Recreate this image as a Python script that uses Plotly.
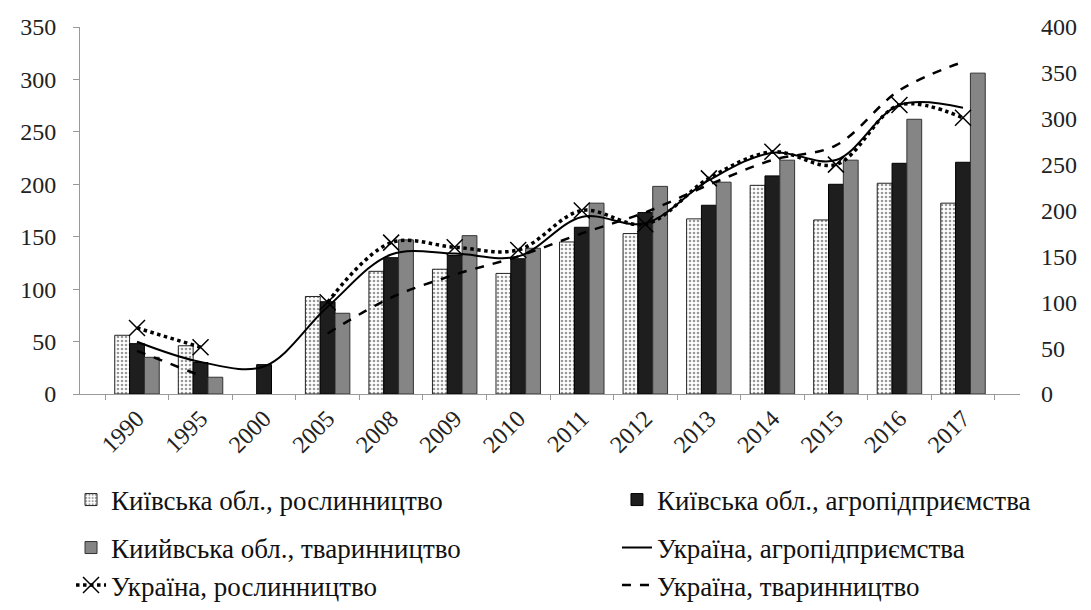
import plotly.graph_objects as go

years = ['1990', '1995', '2000', '2005', '2008', '2009', '2010', '2011', '2012',
         '2013', '2014', '2015', '2016', '2017']

# Left axis (bars)
kyiv_crop = [56, 46, None, 93, 117, 119, 115, 145, 153, 167, 199, 166, 201, 182]
kyiv_agro = [48, 30, 28, 88, 130, 132, 129, 159, 173, 180, 208, 200, 220, 221]
kyiv_livestock = [35, 16, None, 77, 147, 151, 139, 182, 198, 202, 223, 223, 262, 306]

# Right axis (lines)
ukr_agro = [57, 35, 30, 95, 152, 153, 150, 193, 186, 233, 263, 255, 315, 312]
ukr_crop = [72, 51, None, 100, 165, 160, 157, 200, 185, 235, 264, 250, 315, 301]
ukr_livestock = [47, 20, None, 66, 105, 130, 150, 175, 198, 228, 255, 271, 331, 362]

names = ['Київська обл., рослинництво', 'Київська обл., агропідприємства',
         'Киийвська обл., тваринництво', 'Україна, агропідприємства',
         'Україна, рослинництво', 'Україна, тваринництво']

FONT = 'Liberation Serif'

fig = go.Figure()
fig.add_trace(go.Bar(x=years, y=kyiv_crop, name=names[0], legend='legend',
                     marker=dict(color='white',
                                 pattern=dict(shape='.', fgcolor='#333', bgcolor='white',
                                              size=4, solidity=0.35),
                                 line=dict(color='#222', width=1))))
fig.add_trace(go.Bar(x=years, y=kyiv_agro, name=names[1], legend='legend2',
                     marker=dict(color='#1e1e1e', line=dict(color='#000', width=1))))
fig.add_trace(go.Bar(x=years, y=kyiv_livestock, name=names[2], legend='legend3',
                     marker=dict(color='#858585', line=dict(color='#333', width=1))))

fig.add_trace(go.Scatter(x=years, y=ukr_agro, name=names[3], yaxis='y2', legend='legend4',
                         mode='lines', line=dict(color='black', width=2, shape='spline'),
                         connectgaps=False))
fig.add_trace(go.Scatter(x=years, y=ukr_crop, name=names[4], yaxis='y2', legend='legend5',
                         mode='lines+markers',
                         line=dict(color='black', width=3.5, dash='dot', shape='spline'),
                         marker=dict(symbol='x-thin-open', size=16,
                                     line=dict(color='black', width=1.5)),
                         connectgaps=False))
fig.add_trace(go.Scatter(x=years, y=ukr_livestock, name=names[5], yaxis='y2', legend='legend6',
                         mode='lines', line=dict(color='black', width=2.5, dash='dash', shape='spline'),
                         connectgaps=False))

def leg(x, y, anchor='middle'):
    return dict(orientation='h', xanchor='left', yanchor=anchor, x=x, y=y,
                xref='container', yref='container',
                font=dict(family=FONT, size=27, color='#111'),
                bgcolor='rgba(0,0,0,0)')

col1, col2 = 0.0582, 0.5623
row1, row2, row3 = 0.1827, 0.103, 0.0

tickfont = dict(family=FONT, size=24, color='#222')

fig.update_layout(
    width=1083, height=602,
    margin=dict(l=72, r=71, t=19, b=216, autoexpand=False),
    paper_bgcolor='white', plot_bgcolor='white',
    showlegend=True,
    font=dict(family=FONT, size=24, color='#222'),
    barmode='group', bargap=0.3, bargroupgap=0,
    xaxis=dict(type='category', tickangle=-45, showline=True, linecolor='#999',
               linewidth=1, ticks='outside', tickson='boundaries', ticklen=5,
               tickcolor='#999', showgrid=False, tickfont=tickfont),
    yaxis=dict(range=[0, 350], dtick=50, showline=True, linecolor='#999', linewidth=1,
               ticks='outside', ticklen=6, tickcolor='#999', showgrid=False,
               zeroline=False, tickfont=tickfont, ticklabelstandoff=12),
    yaxis2=dict(range=[0, 400], dtick=50, overlaying='y', side='right', showline=False,
                showgrid=False, zeroline=False, ticks='', tickfont=tickfont,
                ticklabelstandoff=20),
    legend=leg(col1, row1),
    legend2=leg(col2, row1),
    legend3=leg(col1, row2),
    legend4=leg(col2, row2),
    legend5=leg(col1, row3, 'bottom'),
    legend6=leg(col2, row3, 'bottom'),
)

fig.write_html('out.html')
